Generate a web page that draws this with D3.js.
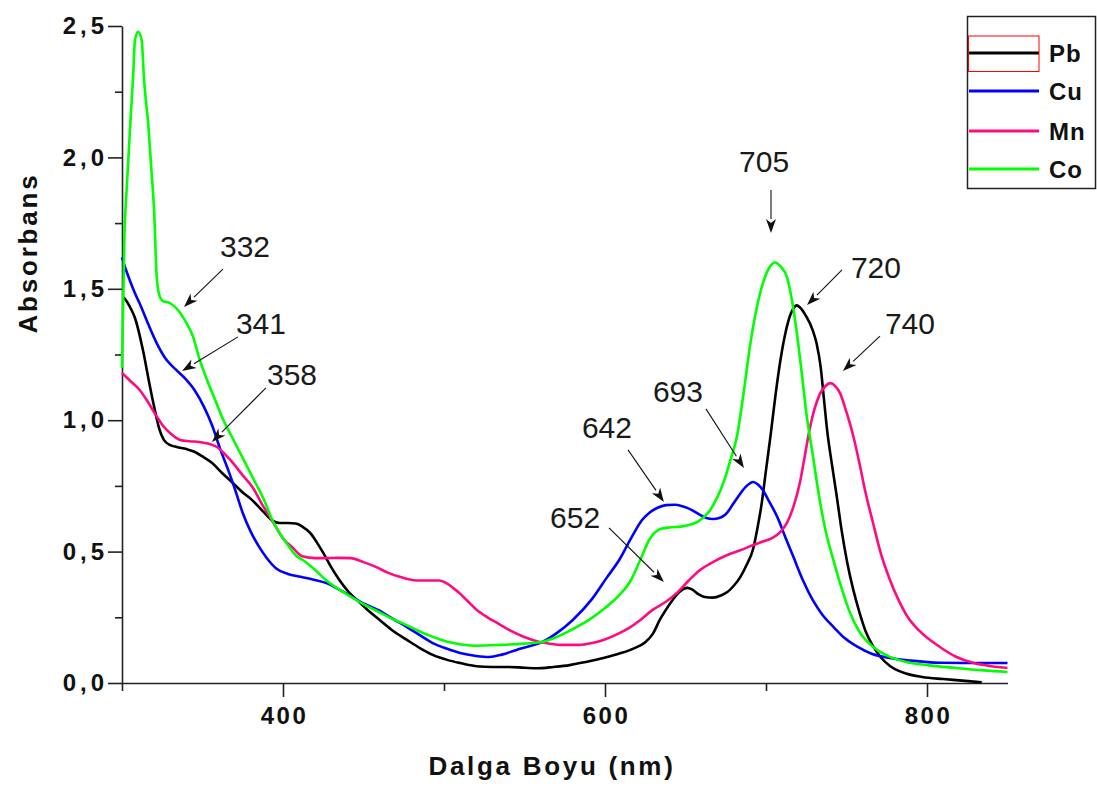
<!DOCTYPE html>
<html>
<head>
<meta charset="utf-8">
<script src="https://cdn.jsdelivr.net/npm/d3@7"></script>
<style>
  body { margin: 0; background: #fff; }
  svg { display: block; }
</style>
</head>
<body>
<svg id="chart" width="1097" height="787"></svg>
<script>
// UV-Vis absorption spectra: wavelength (nm) vs absorbance
const pbSpectrum = [
  [300.5,1.47],[302,1.46],[305,1.43],[308,1.39],[313,1.267],[317,1.14],[320,1.05],[323,0.97],
  [326,0.925],[330,0.905],[334,0.898],[340,0.89],[345,0.88],[350,0.862],[356,0.837],[362,0.80],
  [369,0.76],[375,0.725],[381,0.695],[388,0.65],[393,0.62],[398,0.609],[403,0.609],[408,0.607],
  [412,0.595],[417,0.57],[421,0.535],[425,0.495],[430,0.44],[435,0.392],[441,0.345],[448,0.304],
  [454,0.27],[460,0.24],[468,0.2],[477,0.164],[485,0.133],[493,0.107],[502,0.088],[510,0.076],
  [520,0.064],[530,0.061],[540,0.061],[550,0.058],[558,0.056],[568,0.061],[578,0.068],[588,0.08],
  [599,0.095],[609,0.112],[618,0.132],[625,0.155],[630,0.19],[634,0.24],[638,0.28],[642,0.316],
  [646,0.345],[651,0.362],[654,0.356],[658,0.338],[662,0.327],[667,0.325],[672,0.333],[676,0.346],
  [680,0.37],[684,0.403],[688,0.45],[692,0.51],[695,0.6],[697,0.67],[700,0.81],[703,0.95],
  [706,1.10],[709,1.23],[712,1.33],[714,1.38],[717,1.425],[719,1.437],[721,1.43],[725,1.395],
  [729,1.343],[731.5,1.29],[734,1.2],[736,1.08],[738,0.96],[741,0.83],[744,0.708],[747,0.58],
  [750.5,0.457],[754,0.36],[758,0.27],[762,0.195],[766.5,0.14],[771,0.1],[777,0.065],[785,0.04],
  [797,0.023],[810,0.015],[820,0.01],[834,0.003]
];

const cuSpectrum = [
  [300,1.62],[302,1.58],[305,1.53],[308,1.484],[312,1.43],[316,1.37],[321,1.30],[327,1.235],
  [333,1.195],[339,1.16],[345,1.115],[351,1.05],[356,0.98],[361,0.89],[366,0.81],[370,0.74],
  [375,0.647],[380,0.575],[385,0.52],[390,0.475],[396,0.435],[403,0.415],[411,0.404],[419,0.393],
  [427,0.38],[435,0.355],[443,0.327],[451,0.30],[460,0.275],[468,0.245],[477,0.213],[485,0.182],
  [493,0.152],[502,0.13],[510,0.114],[520,0.103],[528,0.099],[536,0.108],[545,0.126],[553,0.14],
  [561,0.156],[570,0.19],[580,0.24],[592,0.32],[601,0.40],[609,0.47],[617,0.56],[623,0.62],
  [628,0.65],[633,0.668],[638,0.677],[643,0.678],[648,0.673],[654,0.658],[659,0.64],[663,0.628],
  [667,0.624],[671,0.628],[675,0.642],[680,0.685],[684,0.72],[688,0.75],[692,0.765],[695,0.755],
  [698,0.734],[702,0.69],[707,0.632],[712,0.555],[717,0.48],[723,0.39],[729,0.316],[735,0.26],
  [742,0.213],[749,0.17],[757,0.137],[766,0.11],[777,0.095],[790,0.085],[808,0.077],[830,0.076],
  [850,0.076]
];

const mnSpectrum = [
  [300,1.18],[305,1.15],[311,1.115],[316,1.07],[322,1.01],[326,0.975],[330,0.95],[336,0.925],
  [342,0.92],[348,0.917],[354,0.91],[359,0.898],[364,0.87],[369,0.837],[375,0.79],[381,0.746],
  [387,0.68],[394,0.61],[400,0.55],[406,0.515],[412,0.482],[420,0.475],[427,0.475],[434,0.476],
  [442,0.475],[450,0.46],[458,0.441],[465,0.42],[473,0.403],[483,0.39],[490,0.39],[497,0.39],
  [502,0.378],[506,0.36],[510,0.34],[514,0.316],[520,0.28],[527,0.25],[534,0.225],[541,0.2],
  [548,0.18],[555,0.164],[563,0.152],[572,0.145],[584,0.145],[592,0.152],[599,0.164],[609,0.19],
  [615,0.21],[622,0.24],[630,0.28],[638,0.31],[645,0.345],[652,0.39],[659,0.43],[667,0.46],
  [676,0.487],[684,0.505],[692,0.525],[699,0.54],[704,0.552],[709,0.575],[713,0.609],[717,0.67],
  [721,0.761],[724,0.86],[727,0.963],[730,1.04],[733.5,1.10],[737,1.13],[740,1.141],[743,1.13],
  [746,1.103],[749,1.05],[752,0.99],[755,0.92],[758,0.837],[762,0.72],[766.5,0.609],[771,0.5],
  [777,0.392],[782,0.32],[788,0.251],[795,0.2],[808,0.137],[818,0.1],[829,0.076],[840,0.064],
  [850,0.057]
];

const coSpectrum = [
  [300,1.20],[301.5,1.70],[303,1.89],[305.4,2.155],[307,2.32],[308,2.445],[310,2.478],[312.2,2.447],
  [313.7,2.295],[316.4,2.117],[318.4,1.94],[320,1.79],[321.5,1.55],[323,1.48],[325,1.455],[330,1.445],
  [336,1.41],[340,1.37],[344,1.32],[348,1.235],[353,1.15],[358,1.075],[363,1.00],[368,0.94],
  [373,0.88],[378,0.82],[383,0.76],[388,0.70],[393,0.625],[398,0.57],[403,0.525],[408,0.485],
  [413,0.465],[420,0.43],[427,0.39],[435,0.355],[443,0.325],[450,0.30],[458,0.275],[466,0.25],
  [474,0.228],[482,0.205],[490,0.183],[498,0.165],[506,0.152],[520,0.142],[535,0.145],[550,0.150],
  [560,0.155],[570,0.175],[580,0.205],[590,0.24],[600,0.285],[609,0.335],[616,0.39],[622,0.47],
  [628,0.55],[634,0.585],[640,0.592],[647,0.595],[653,0.603],[658,0.615],[665,0.655],[670,0.71],
  [674,0.77],[678,0.85],[682,0.94],[686,1.10],[690,1.28],[694,1.42],[698,1.52],[702,1.58],
  [705.6,1.60],[709,1.585],[713,1.545],[716,1.46],[719,1.34],[722,1.19],[725,1.03],[729,0.87],
  [733,0.71],[737,0.58],[742,0.465],[747,0.36],[752,0.27],[758,0.195],[766,0.14],[775,0.105],
  [787,0.08],[800,0.068],[818,0.057],[835,0.048],[850,0.042]
];

const seriesNames = ["Pb", "Cu", "Mn", "Co"];
const seriesColors = ["#000000", "#0000ff", "#ff0a80", "#00ff00"];
const seriesData = [pbSpectrum, cuSpectrum, mnSpectrum, coSpectrum];

const xMajorTicks = [400, 600, 800];
const xMinorTicks = [300, 500, 700];
const yMajorTicks = [0, 0.5, 1.0, 1.5, 2.0, 2.5];
const yMinorTicks = [0.25, 0.75, 1.25, 1.75, 2.25];

// Peak annotations: label, label anchor [nm, A], arrow tail [nm, A], arrow tip [nm, A]
const peakLabels = ["705", "720", "740", "693", "642", "652", "332", "341", "358"];
const peakTextPos = [[698.8,1.944],[768.3,1.541],[789.4,1.328],[645.3,1.069],[601.2,0.932],[581.4,0.590],[376.4,1.621],[386.3,1.328],[405.6,1.134]];
const peakArrowTail = [[703.1,1.876],[747.2,1.572],[770.8,1.320],[662.7,1.043],[614.3,0.887],[602.5,0.590],[362.7,1.575],[372.0,1.317],[389.4,1.123]];
const peakArrowTip = [[703.1,1.712],[725.5,1.438],[747.8,1.187],[686.3,0.818],[636.6,0.689],[636.6,0.384],[338.5,1.431],[337.3,1.187],[355.9,0.917]];

const svg = d3.select("#chart");
const x = d3.scaleLinear().domain([300, 850]).range([122, 1007.5]);
const y = d3.scaleLinear().domain([0, 2.5]).range([683, 26]);

const commaFmt = v => d3.format(".1f")(v).replace(".", ",");
const axisColor = "#222";
const font = "Liberation Sans, Arial, sans-serif";

// Y axis (major + minor ticks)
const yAxisG = svg.append("g").attr("transform", "translate(122,0)")
  .call(d3.axisLeft(y).tickValues(yMajorTicks).tickSize(14).tickSizeOuter(0).tickPadding(0).tickFormat(commaFmt));
svg.append("g").attr("transform", "translate(122,0)")
  .call(d3.axisLeft(y).tickValues(yMinorTicks).tickSize(7).tickSizeOuter(0).tickFormat(""))
  .select(".domain").remove();

// X axis (major + minor ticks)
const xAxisG = svg.append("g").attr("transform", "translate(0,683)")
  .call(d3.axisBottom(x).tickValues(xMajorTicks).tickSize(14).tickSizeOuter(0).tickPadding(10).tickFormat(d3.format("d")));
svg.append("g").attr("transform", "translate(0,683)")
  .call(d3.axisBottom(x).tickValues(xMinorTicks).tickSize(8).tickSizeOuter(0).tickFormat(""))
  .select(".domain").remove();

svg.selectAll(".domain, .tick line").attr("stroke", axisColor).attr("stroke-width", 1.6);
yAxisG.selectAll(".tick text")
  .attr("font-family", font)
  .attr("font-weight", "bold").attr("font-size", 24).attr("letter-spacing", 4)
  .attr("fill", "#111");
xAxisG.selectAll(".tick text")
  .attr("font-family", font)
  .attr("font-weight", "bold").attr("font-size", 24).attr("letter-spacing", 2.5)
  .attr("dx", 1).attr("fill", "#111");

// Axis titles
svg.append("text")
  .attr("x", 552).attr("y", 775).attr("text-anchor", "middle")
  .attr("font-family", font)
  .attr("font-weight", "bold").attr("font-size", 26).attr("letter-spacing", 2.7)
  .attr("fill", "#111").text("Dalga Boyu (nm)");
svg.append("text")
  .attr("transform", "translate(37,253) rotate(-90)").attr("text-anchor", "middle")
  .attr("font-family", font)
  .attr("font-weight", "bold").attr("font-size", 26).attr("letter-spacing", 2.8)
  .attr("fill", "#111").text("Absorbans");

// Spectra
const line = d3.line().x(d => x(d[0])).y(d => y(d[1])).curve(d3.curveMonotoneX);
svg.append("g").selectAll("path")
  .data(seriesData)
  .join("path")
  .attr("d", line)
  .attr("fill", "none")
  .attr("stroke", (d, i) => seriesColors[i])
  .attr("stroke-width", 2.6)
  .attr("stroke-linejoin", "round");

// Peak annotations
const ann = svg.append("g");
peakLabels.forEach((lab, i) => {
  const [tx, ty] = [x(peakArrowTail[i][0]), y(peakArrowTail[i][1])];
  const [hx, hy] = [x(peakArrowTip[i][0]), y(peakArrowTip[i][1])];
  const dx = hx - tx, dy = hy - ty, len = Math.hypot(dx, dy);
  const ux = dx / len, uy = dy / len;
  const headLen = 14, headHalf = 5;
  const bx = hx - ux * headLen, by = hy - uy * headLen;
  ann.append("line")
    .attr("x1", tx).attr("y1", ty).attr("x2", bx).attr("y2", by)
    .attr("stroke", "#111").attr("stroke-width", 1.1);
  ann.append("path")
    .attr("d", `M${hx},${hy}L${bx - uy * headHalf},${by + ux * headHalf}L${bx + ux * 4},${by + uy * 4}L${bx + uy * headHalf},${by - ux * headHalf}Z`)
    .attr("fill", "#111");
  ann.append("text")
    .attr("x", x(peakTextPos[i][0])).attr("y", y(peakTextPos[i][1]))
    .attr("text-anchor", "middle")
    .attr("font-family", font)
    .attr("font-size", 30).attr("fill", "#1a1a1a")
    .text(lab);
});

// Legend
const legend = svg.append("g");
legend.append("rect")
  .attr("x", 967.5).attr("y", 16.5).attr("width", 128).attr("height", 172)
  .attr("fill", "#fff").attr("stroke", "#222").attr("stroke-width", 1.5);
const legendRows = [53, 91, 131, 169];
seriesNames.forEach((name, i) => {
  legend.append("line")
    .attr("x1", 969).attr("x2", 1039).attr("y1", legendRows[i]).attr("y2", legendRows[i])
    .attr("stroke", seriesColors[i]).attr("stroke-width", 2.8);
  legend.append("text")
    .attr("x", 1049).attr("y", legendRows[i] + 9)
    .attr("font-family", font)
    .attr("font-weight", "bold").attr("font-size", 24).attr("letter-spacing", 1)
    .attr("fill", "#111").text(name);
});
legend.append("rect")
  .attr("x", 968.5).attr("y", 36).attr("width", 70.5).attr("height", 35.5)
  .attr("fill", "none").attr("stroke", "#ff0000").attr("stroke-width", 1);
</script>
</body>
</html>
